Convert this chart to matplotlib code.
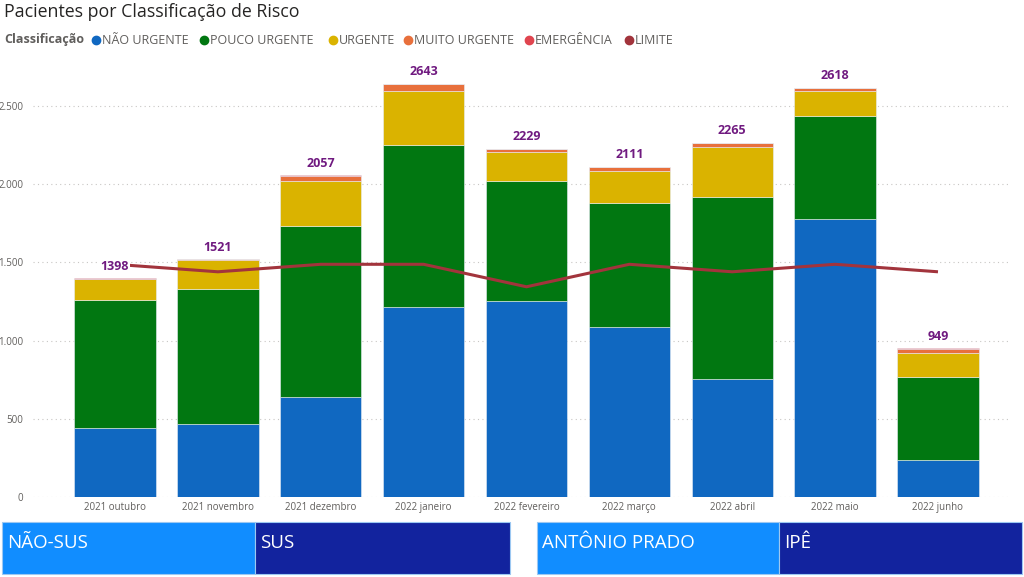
import numpy as np
import matplotlib.pyplot as plt
from matplotlib.lines import Line2D
from matplotlib.patches import Rectangle
from matplotlib.ticker import FuncFormatter

plt.rcParams['font.family'] = ['Open Sans', 'DejaVu Sans']

# dados
meses = ['2021 outubro', '2021 novembro', '2021 dezembro', '2022 janeiro', '2022 fevereiro',
         '2022 março', '2022 abril', '2022 maio', '2022 junho']
nao_urgente = [438, 463, 640, 1216, 1253, 1088, 752, 1776, 235]
pouco_urgente = [821, 865, 1095, 1036, 770, 794, 1165, 661, 533]
urgente = [133, 187, 288, 347, 186, 205, 320, 162, 154]
muito_urgente = [5, 5, 32, 43, 18, 22, 26, 17, 25]
emergencia = [1, 1, 2, 1, 2, 2, 2, 2, 2]
limite = [1488, 1440, 1488, 1488, 1344, 1488, 1440, 1488, 1440]
totais = [1398, 1521, 2057, 2643, 2229, 2111, 2265, 2618, 949]

series = [('NÃO URGENTE', nao_urgente, '#1068C1'),
          ('POUCO URGENTE', pouco_urgente, '#017711'),
          ('URGENTE', urgente, '#DAB300'),
          ('MUITO URGENTE', muito_urgente, '#E8703C'),
          ('EMERGÊNCIA', emergencia, '#E0454F')]
cor_limite = '#A2343C'
cor_rotulo = '#701A80'

fig = plt.figure(figsize=(10.24, 5.77), dpi=100)
ax = fig.add_axes([33/1024, 1 - 496.7/577, 977/1024, (496.7 - 60)/577])

x = np.arange(len(meses))
base = np.zeros(len(meses))
for nome, vals, cor in series:
    ax.bar(x, vals, 0.79, bottom=base, color=cor, edgecolor='#E8EEF6', linewidth=0.4, zorder=2)
    base += np.array(vals)

ax.plot(x, limite, color=cor_limite, lw=2.2, zorder=3, solid_capstyle='butt')

for i, t in enumerate(totais):
    ax.annotate(str(t), (x[i], base[i]), xytext=(0, 4), textcoords='offset points',
                ha='center', va='bottom', fontsize=9, fontweight='bold', color=cor_rotulo,
                zorder=5, bbox=dict(boxstyle='square,pad=0.1', fc='white', ec='none'))

ax.set_xlim(-0.797, 8.70)
ax.set_ylim(0, 2796)
ax.set_yticks([0, 500, 1000, 1500, 2000, 2500])
ax.yaxis.set_major_formatter(FuncFormatter(lambda v, p: f'{int(v):,}'.replace(',', '.')))
ax.set_xticks(x)
ax.set_xticklabels(meses)
ax.tick_params(axis='both', length=0, labelsize=7, labelcolor='#605E5C')
ax.tick_params(axis='y', pad=7)
ax.tick_params(axis='x', pad=4)
ax.grid(axis='y', color='#C8C6C4', linestyle=(0, (1, 3)), lw=0.8, zorder=0)
for s in ax.spines.values():
    s.set_visible(False)

# titulo e legenda
fig.text(4/1024, 1 - 12/577, 'Pacientes por Classificação de Risco', fontsize=12.8,
         color='#252423', va='center', ha='left')
ly = 1 - 40/577
fig.text(4/1024, ly, 'Classificação', fontsize=9, fontweight='bold', color='#605E5C',
         va='center', ha='left')
leg_itens = [(nome, cor) for nome, _, cor in series] + [('LIMITE', cor_limite)]
pos_ponto = [96, 204, 333, 408, 529, 629]
for (nome, cor), px in zip(leg_itens, pos_ponto):
    fig.add_artist(Line2D([px/1024], [ly], marker='o', markersize=6, color=cor,
                          transform=fig.transFigure))
    fig.text((px + 6)/1024, ly, nome, fontsize=9, color='#605E5C', va='center', ha='left')

# segmentadores
caixas = [(2, 255, '#118DFF', 'NÃO-SUS'), (255, 510, '#12239E', 'SUS'),
          (537, 779, '#118DFF', 'ANTÔNIO PRADO'), (779, 1022, '#12239E', 'IPÊ')]
for x0, x1, cor, txt in caixas:
    fig.add_artist(Rectangle((x0/1024, 1 - 574/577), (x1 - x0)/1024, 52/577,
                             transform=fig.transFigure, fc=cor, ec='#9CC8F2', lw=0.8))
    fig.text((x0 + 5)/1024, 1 - 543/577, txt, fontsize=13.5, color='white',
             va='center', ha='left')

fig.savefig('out.png', dpi=100)
